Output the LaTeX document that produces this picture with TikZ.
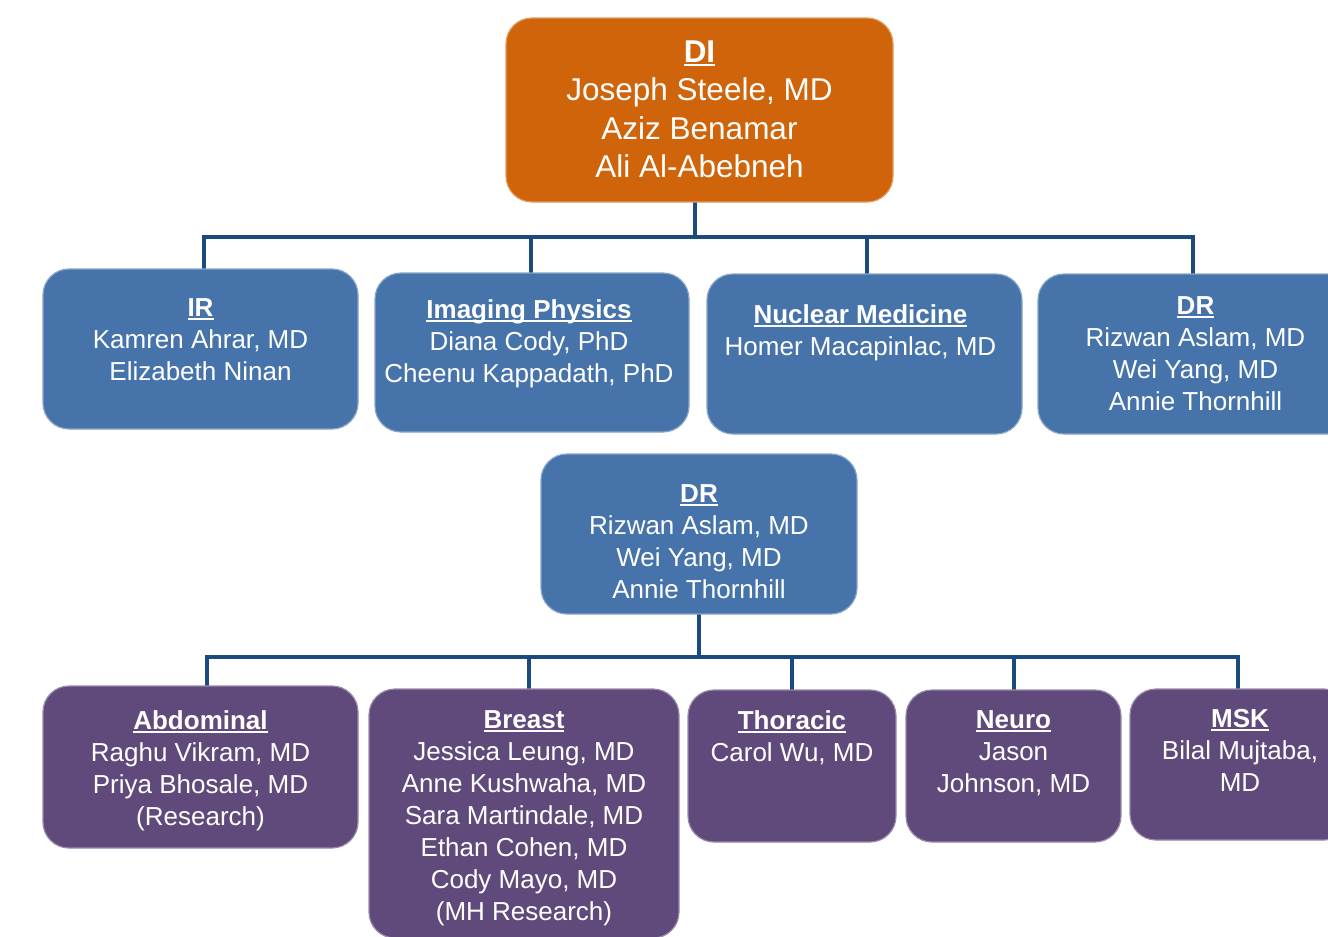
\documentclass[tikz,border=0pt]{standalone}
\usepackage{fontspec}
\setmainfont{Liberation Sans}
\usetikzlibrary{positioning, backgrounds}
\definecolor{diOrange}{HTML}{D0640A}
\definecolor{drBlue}{HTML}{4674AA}
\definecolor{secPurple}{HTML}{604A7B}
\definecolor{busBlue}{HTML}{1A4A7E}
\newsavebox{\hdbox}
\newcommand{\hd}[1]{{\bfseries\sbox{\hdbox}{#1}\rlap{\rule[-3.5pt]{\wd\hdbox}{2pt}}\usebox{\hdbox}}}

\begin{document}
\begin{tikzpicture}[x=1pt, y=-1pt,
    box/.style={rounded corners=26pt, line width=1.2pt, inner sep=0pt},
    topbox/.style={box, fill=diOrange, draw=diOrange!65!white},
    dept/.style={box, fill=drBlue, draw=drBlue!65!white},
    sect/.style={box, fill=secPurple, draw=secPurple!65!white},
    txt/.style={text=white, align=center, inner sep=0pt,
                font=\fontsize{26}{32}\selectfont},
    bigtxt/.style={txt, font=\fontsize{31.5}{38.5}\selectfont},
    bus/.style={draw=busBlue, line width=4.8pt, line cap=rect},
  ]
    \useasboundingbox (0,0) rectangle (1328,937);
    \clip (0,0) rectangle (1328,937);

    % top level
    \node[topbox, minimum width=387pt, minimum height=184pt] (di) at (699.5,110) {};
    \node[bigtxt, below=23pt of di.north] (diT)
      {\hd{DI}\\Joseph Steele, MD\\Aziz Benamar\\Ali Al-Abebneh};

    % divisions
    \node[dept, minimum width=315pt, minimum height=160pt] (ir)    at (200.5,349) {};
    \node[dept, minimum width=314pt, minimum height=159pt] (phys)  at (532,352.5) {};
    \node[dept, minimum width=315pt, minimum height=160pt] (nm)    at (864.5,354) {};
    \node[dept, minimum width=315pt, minimum height=160pt] (drTop) at (1195.5,354) {};

    \node[txt, below=30pt of ir.north]                (irT)    {\hd{IR}\\Kamren Ahrar, MD\\Elizabeth Ninan};
    \node[txt, below=27pt of phys.north, xshift=-3pt] (physT)  {\hd{Imaging Physics}\\Diana Cody, PhD\\Cheenu Kappadath, PhD};
    \node[txt, below=31pt of nm.north, xshift=-4pt]   (nmT)    {\hd{Nuclear Medicine}\\Homer Macapinlac, MD};
    \node[txt, below=23pt of drTop.north]             (drTopT) {\hd{DR}\\Rizwan Aslam, MD\\Wei Yang, MD\\Annie Thornhill};

    % DR again, with its sections
    \node[dept, minimum width=316pt, minimum height=160pt] (dr) at (699,534) {};
    \node[txt, below=31pt of dr.north] (drT) {\hd{DR}\\Rizwan Aslam, MD\\Wei Yang, MD\\Annie Thornhill};

    \node[sect, minimum width=315pt, minimum height=162pt] (abd)    at (200.5,767) {};
    \node[sect, minimum width=310pt, minimum height=249pt] (breast) at (524,813.5) {};
    \node[sect, minimum width=208pt, minimum height=152pt] (thor)   at (792,766) {};
    \node[sect, minimum width=215pt, minimum height=152pt] (neuro)  at (1013.5,766) {};
    \node[sect, minimum width=220pt, minimum height=151pt] (msk)    at (1240,764.5) {};

    \node[txt, below=25pt of abd.north]    (abdT)    {\hd{Abdominal}\\Raghu Vikram, MD\\Priya Bhosale, MD\\(Research)};
    \node[txt, below=22pt of breast.north] (breastT) {\hd{Breast}\\Jessica Leung, MD\\Anne Kushwaha, MD\\Sara Martindale, MD\\Ethan Cohen, MD\\Cody Mayo, MD\\(MH Research)};
    \node[txt, below=21pt of thor.north]   (thorT)   {\hd{Thoracic}\\Carol Wu, MD};
    \node[txt, below=21pt of neuro.north]  (neuroT)  {\hd{Neuro}\\Jason\\Johnson, MD};
    \node[txt, below=21pt of msk.north]    (mskT)    {\hd{MSK}\\Bilal Mujtaba,\\MD};

    % connectors
    \begin{scope}[on background layer]
      \coordinate (hub1) at (695,237);
      \draw[bus] (di.south -| hub1) -- (hub1);
      \draw[bus] ([xshift=3.5pt]ir.north |- hub1) -- ([xshift=-2.5pt]drTop.north |- hub1);
      \foreach \n/\dx in {ir/3.5, phys/-1, nm/2.5, drTop/-2.5}
        \draw[bus] ([xshift=\dx pt]\n.north |- hub1) -- ([xshift=\dx pt]\n.north);

      \coordinate (hub2) at (699,657);
      \draw[bus] (dr.south) -- (hub2);
      \draw[bus] ([xshift=6.5pt]abd.north |- hub2) -- ([xshift=-2pt]msk.north |- hub2);
      \foreach \n/\dx in {abd/6.5, breast/5, thor/0, neuro/0.5, msk/-2}
        \draw[bus] ([xshift=\dx pt]\n.north |- hub2) -- ([xshift=\dx pt]\n.north);
    \end{scope}
\end{tikzpicture}
\end{document}
